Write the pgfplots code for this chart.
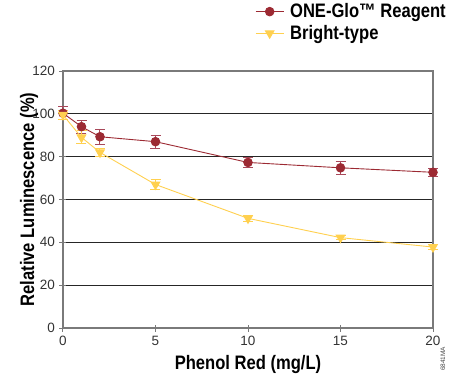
\documentclass[border=0pt]{standalone}
\usepackage{fontspec}
\setmainfont{Liberation Sans}
\newfontfamily\cond[FakeStretch=0.85]{Liberation Sans}
\usepackage{pgfplots}
\pgfplotsset{compat=1.18}
\definecolor{maroon}{HTML}{9C2A33}
\definecolor{maroonerr}{HTML}{A8485A}
\definecolor{gold}{HTML}{FFD04F}
\definecolor{axgray}{HTML}{7A7A7A}
\definecolor{ticktext}{HTML}{333333}
\begin{document}
\begin{tikzpicture}
\begin{axis}[
  scale only axis,
  width=370pt, height=257pt,
  at={(0,0)}, anchor=south west,
  xmin=0, xmax=20, ymin=0, ymax=120,
  xtick={0,5,10,15,20},
  ytick={0,20,40,60,80,100,120},
  xtick pos=bottom, ytick pos=left,
  tick align=center,
  major tick length=7pt,
  axis line style={draw=axgray, line width=1.4pt},
  every tick/.style={draw=axgray, line width=1pt},
  ymajorgrids,
  grid style={draw=black!85, line width=0.9pt},
  /pgf/number format/assume math mode=true,
  tick label style={font=\fontsize{13.5}{14}\selectfont, text=ticktext},
  xticklabel style={yshift=-1pt},
  yticklabel style={xshift=-1pt},
  xlabel={\cond\bfseries Phenol Red (mg/L)},
  ylabel={\cond\bfseries Relative Luminescence (\%)},
  label style={font=\fontsize{19.5}{21}\selectfont},
  xlabel style={at={(axis description cs:0.5,-0.142)}, anchor=center},
  ylabel style={at={(axis description cs:-0.092,0.5)}, anchor=center, rotate=0},
  legend style={at={(axis description cs:0.519,1.27)}, anchor=north west,
    draw=none, fill=none, font=\fontsize{19.5}{21}\selectfont\cond\bfseries,
    row sep=2pt, inner sep=0pt,
    nodes={inner xsep=6pt}},
  legend cell align=left,
  legend image code/.code={
    \draw[#1] (0pt,0pt) -- (28pt,0pt);
    \draw[#1, only marks] plot coordinates {(14pt,0pt)};
  },
  clip=false,
]
\addplot[maroon, line width=0.9pt, mark=*, mark size=4.3pt,
  error bars/.cd, y dir=both, y explicit,
  error bar style={maroonerr, line width=1pt},
  error mark options={rotate=90, mark size=5pt, line width=1pt, maroonerr}]
coordinates {
 (0,100.3) +- (0,3)
 (1,94) +- (0,3)
 (2,89.3) +- (0,3.5)
 (5,87) +- (0,3)
 (10,77.3) +- (0,2.5)
 (15,74.8) +- (0,3)
 (20,72.7) +- (0,2)
};
\addlegendentry{ONE-Glo™ Reagent}
\addplot[gold, line width=0.9pt, mark=triangle*, mark size=5pt,
  mark options={rotate=180},
  error bars/.cd, y dir=both, y explicit,
  error bar style={gold, line width=1pt},
  error mark options={rotate=90, mark size=5pt, line width=1pt, gold}]
coordinates {
 (0,99.5) +- (0,2)
 (1,89) +- (0,3)
 (2,82) +- (0,2)
 (5,67) +- (0,2.5)
 (10,51.2) +- (0,1.5)
 (15,42.2) +- (0,1)
 (20,37.8) +- (0,1)
};
\addlegendentry{Bright-type}
\node[rotate=90, font=\fontsize{6.5}{7}\selectfont, text=black!70] at (rel axis cs:1.027,-0.12) {6841MA};
\end{axis}
\pgfresetboundingbox
\useasboundingbox (-63pt,-56pt) rectangle (387pt,328pt);
\end{tikzpicture}
\end{document}
